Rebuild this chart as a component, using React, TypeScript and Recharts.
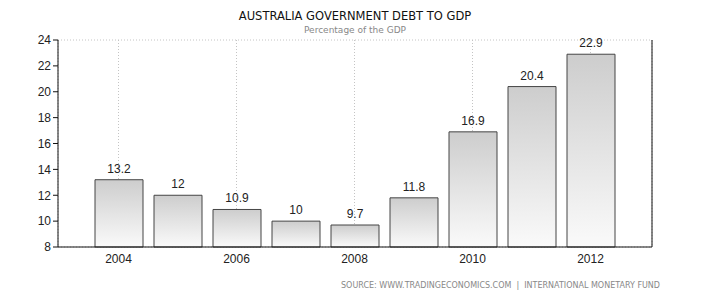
import { BarChart, Bar, XAxis, YAxis, CartesianGrid, LabelList } from 'recharts';

const years = ['2004', '2005', '2006', '2007', '2008', '2009', '2010', '2011', '2012'];
const debtToGdp = [13.2, 12, 10.9, 10, 9.7, 11.8, 16.9, 20.4, 22.9];
const yTicks = [8, 10, 12, 14, 16, 18, 20, 22, 24];

const data = years.map((year, i) => ({ year, value: debtToGdp[i] }));

const axisFont = { fontFamily: 'Liberation Sans, Arial, sans-serif', fontSize: 12, fill: '#222' };

export default function App() {
  return (
    <div style={{ position: 'absolute', left: 0, top: 0, width: 710, height: 300, background: '#fff' }}>
      <div
        style={{
          position: 'absolute',
          top: 9,
          width: 710,
          textAlign: 'center',
          fontFamily: 'DejaVu Sans, Verdana, sans-serif',
          fontSize: 11.5,
          color: '#111',
        }}
      >
        AUSTRALIA GOVERNMENT DEBT TO GDP
      </div>
      <div
        style={{
          position: 'absolute',
          top: 25,
          width: 710,
          textAlign: 'center',
          fontFamily: 'DejaVu Sans, Verdana, sans-serif',
          fontSize: 9,
          color: '#888',
        }}
      >
        Percentage of the GDP
      </div>
      <BarChart
        width={710}
        height={300}
        data={data}
        margin={{ top: 40, right: 0, bottom: 33, left: 0 }}
        barSize={48}
      >
        <defs>
          <linearGradient id="barFill" x1="0" y1="0" x2="0" y2="1">
            <stop offset="0%" stopColor="#cdcdcd" />
            <stop offset="100%" stopColor="#fafafa" />
          </linearGradient>
        </defs>
        <CartesianGrid stroke="#c4c4c4" strokeDasharray="1 2" />
        <XAxis
          dataKey="year"
          interval={1}
          tickLine={false}
          axisLine={{ stroke: '#111' }}
          tick={axisFont}
          tickMargin={1}
          padding={{ left: 31, right: 32 }}
          height={20}
        />
        <YAxis
          yAxisId="left"
          width={58}
          domain={[8, 24]}
          ticks={yTicks}
          axisLine={{ stroke: '#111' }}
          tickLine={{ stroke: '#111' }}
          tickSize={5}
          tick={axisFont}
          tickMargin={2}
        />
        <YAxis
          yAxisId="right"
          orientation="right"
          width={58}
          domain={[8, 24]}
          ticks={yTicks}
          axisLine={{ stroke: '#111' }}
          tickLine={{ stroke: '#111' }}
          tickSize={5}
          tick={axisFont}
          tickMargin={2}
        />
        <Bar
          yAxisId="left"
          dataKey="value"
          fill="url(#barFill)"
          stroke="#444"
          strokeWidth={1}
          isAnimationActive={false}
        >
          <LabelList dataKey="value" position="top" offset={7} style={axisFont} />
        </Bar>
      </BarChart>
      <div
        style={{
          position: 'absolute',
          top: 281,
          right: 50,
          fontFamily: 'DejaVu Sans, Verdana, sans-serif',
          fontSize: 8,
          color: '#888',
          whiteSpace: 'pre',
        }}
      >
        {'SOURCE: WWW.TRADINGECONOMICS.COM  |  INTERNATIONAL MONETARY FUND'}
      </div>
    </div>
  );
}
